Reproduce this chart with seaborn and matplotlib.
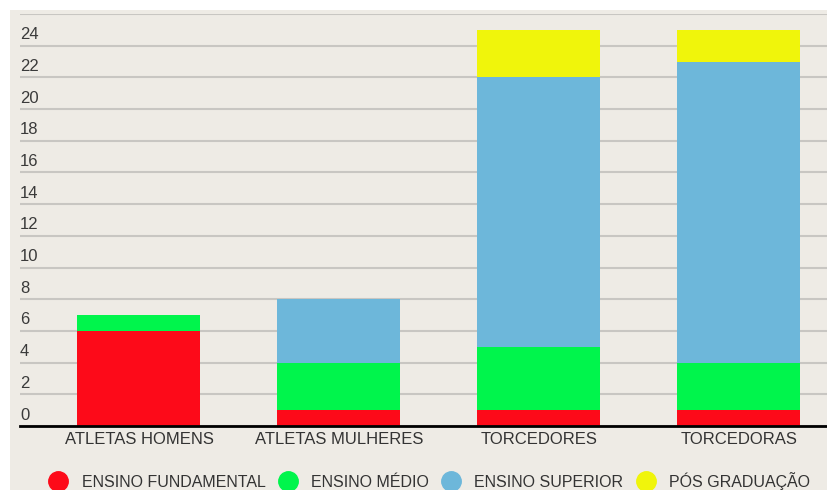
import matplotlib
matplotlib.use("Agg")
import matplotlib.pyplot as plt
from matplotlib.lines import Line2D
from matplotlib.patches import Rectangle
import numpy as np
import pandas as pd
import seaborn as sns

# ---- data ----
groups = ["ATLETAS HOMENS", "ATLETAS MULHERES", "TORCEDORES", "TORCEDORAS"]
levels = ["ENSINO FUNDAMENTAL", "ENSINO MÉDIO", "ENSINO SUPERIOR", "PÓS GRADUAÇÃO"]
fundamental = [6, 1, 1, 1]
medio = [1, 3, 4, 3]
superior = [0, 4, 17, 19]
pos = [0, 0, 3, 2]
colors = ["#fd0a19", "#00f54c", "#6db7da", "#f0f50b"]
y_ticks = list(range(0, 27, 2))

bg = "#eeebe5"
plt.rcParams["font.family"] = ["Liberation Sans", "DejaVu Sans"]

fig = plt.figure(figsize=(8.28, 4.90), dpi=100, facecolor="white")
fig.patches.append(Rectangle((10 / 828, 0), 1, 480 / 490, transform=fig.transFigure,
                             facecolor=bg, edgecolor="none", zorder=-10))
ax = fig.add_axes([20 / 828, 64 / 490, 808 / 828, 412 / 490])
ax.set_facecolor(bg)

# stacked bars: draw cumulative totals, tallest first
series = [fundamental, medio, superior, pos]
cum = np.cumsum(np.array(series), axis=0)
for i in range(len(levels) - 1, -1, -1):
    df = pd.DataFrame({"grupo": groups, "valor": cum[i]})
    sns.barplot(data=df, x="grupo", y="valor", color=colors[i], width=0.615,
                saturation=1, ax=ax, zorder=3, linewidth=0)

ax.set_xlim(-0.595, 3.445)
ax.set_ylim(0, 26)
ax.set_xlabel("")
ax.set_ylabel("")

# grid
ax.set_yticks(y_ticks)
ax.set_yticklabels([])
ax.tick_params(axis="y", length=0)
ax.grid(axis="y", color="#c8c6c2", linewidth=1.5, zorder=0)
ax.set_axisbelow(True)
for s in ["top", "right", "left"]:
    ax.spines[s].set_visible(False)
ax.spines["bottom"].set_color("black")
ax.spines["bottom"].set_linewidth(2)
ax.spines["bottom"].set_zorder(5)

# y labels above gridlines
for t in y_ticks[:-1]:
    ax.annotate(str(t), xy=(0, t), xycoords=("axes fraction", "data"),
                xytext=(0, 2.5), textcoords="offset points",
                ha="left", va="bottom", fontsize=12, color="#3a3a3a")

ax.tick_params(axis="x", length=0, pad=4, labelsize=12, labelcolor="#333333")

handles = [Line2D([], [], marker="o", linestyle="", markersize=14,
                  markerfacecolor=c, markeredgecolor=c) for c in colors]
fig.legend(handles, levels, loc="center left", bbox_to_anchor=(48 / 828, 9 / 490),
           ncol=4, frameon=False, fontsize=11.5, handlelength=1.3,
           handletextpad=0.8, columnspacing=0.75, borderpad=0, borderaxespad=0,
           labelcolor="#333333")

fig.savefig("out.png", dpi=100, facecolor="white")
